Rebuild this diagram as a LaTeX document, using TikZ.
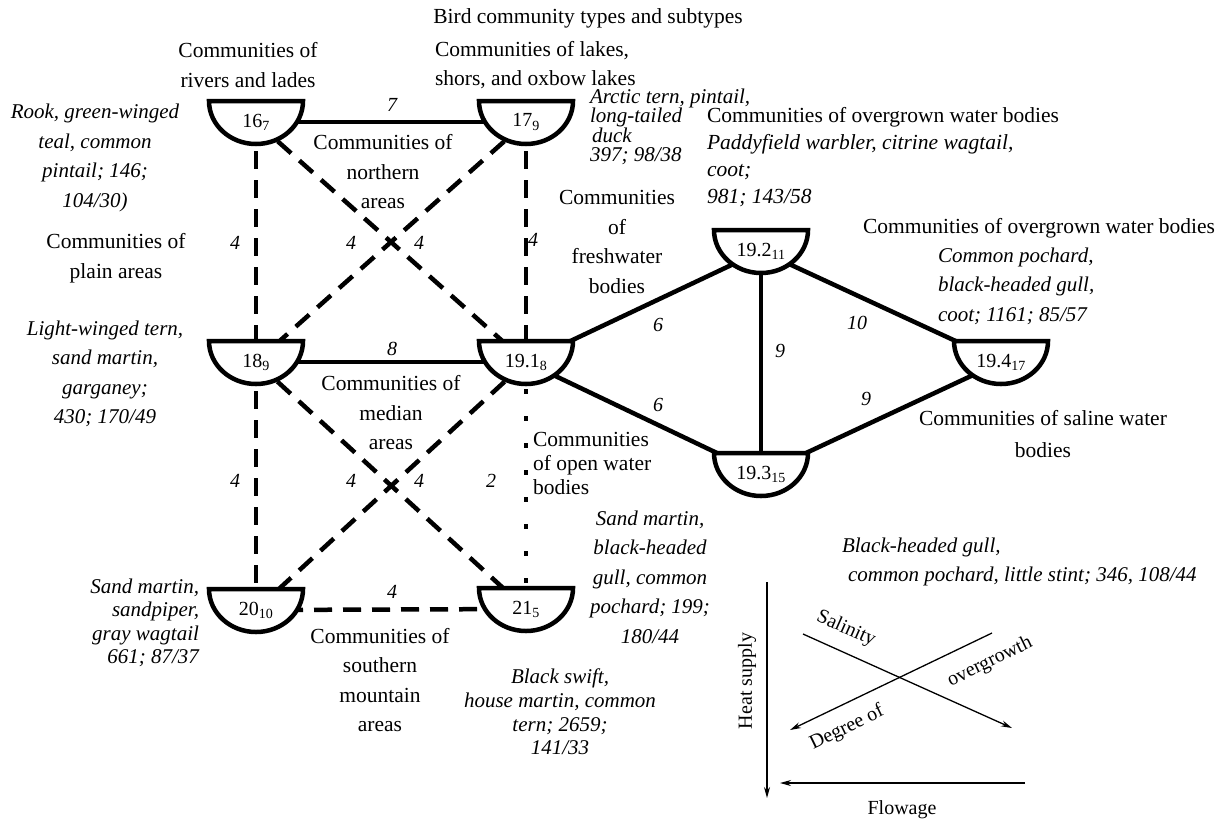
\documentclass[tikz,border=0pt]{standalone}
\usepackage{fontspec}
\setmainfont{Liberation Serif}
\usetikzlibrary{arrows.meta,backgrounds}
\tikzset{
  base/.style={inner sep=0pt, outer sep=0pt},
  up/.style={base, font=\fontsize{21.5}{29.5}\selectfont, align=center},
  it/.style={base, font=\fontsize{21}{29.5}\selectfont\itshape, align=center},
  elab/.style={base, font=\fontsize{20}{24}\selectfont\itshape},
  nlab/.style={base, font=\fontsize{20}{24}\selectfont},
  bowl/.style={line width=4.5pt, fill=white, line join=miter},
  solidln/.style={line width=4.5pt},
  dashln/.style={line width=4.5pt, dash pattern=on 18pt off 11pt},
  dotln/.style={line width=4.5pt, dash pattern=on 5pt off 22pt},
  legarrow/.style={line width=1.3pt, -{Stealth[length=11pt,width=6pt]}},
  leglab/.style={base, font=\fontsize{20}{24}\selectfont},
}
\newcommand\bowlat[4]{%
  \draw[bowl] (#1-47,#2) -- (#1+47,#2) arc[start angle=0,end angle=-180,x radius=47pt,y radius=43pt] -- cycle;
  \node[nlab] (#3) at (#1,#2+21) {#4};
}
\newcommand\tightlines{\lineskiplimit=-20pt\relax}
\begin{document}
\begin{tikzpicture}[x=1pt,y=-1pt]
\useasboundingbox (0,0) rectangle (1222,823);

% community shapes
\bowlat{256}{101}{n16}{16\textsubscript{7}}
\bowlat{526}{101}{n17}{17\textsubscript{9}}
\bowlat{256}{341}{n18}{18\textsubscript{9}}
\bowlat{526}{341}{n191}{19.1\textsubscript{8}}
\bowlat{761}{230}{n192}{19.2\textsubscript{11}}
\bowlat{761}{453}{n193}{19.3\textsubscript{15}}
\bowlat{1001}{341}{n194}{19.4\textsubscript{17}}
\bowlat{256}{589}{n20}{20\textsubscript{10}}
\bowlat{526}{588}{n21}{21\textsubscript{5}}

% connectors
\begin{scope}[on background layer]
\draw[solidln] (n16.center) -- (n17.center);
\draw[dashln] (n16.center) -- (n18.center);
\draw[dashln] (n17.center) -- (n191.center);
\draw[dashln] (n16.center) -- (n191.center);
\draw[dashln] (n17.center) -- (n18.center);
\draw[solidln] (n18.center) -- (n191.center);
\draw[dashln] (n18.center) -- (n20.center);
\draw[dashln] (n18.center) -- (n21.center);
\draw[dashln] (n191.center) -- (n20.center);
\draw[dotln] (n191.center) -- (n21.center);
\draw[dashln] (n20.center) -- (n21.center);
\draw[solidln] (n191.center) -- (n192.center);
\draw[solidln] (n191.center) -- (n193.center);
\draw[solidln] (n192.center) -- (n193.center);
\draw[solidln] (n192.center) -- (n194.center);
\draw[solidln] (n193.center) -- (n194.center);
\end{scope}

% edge labels
\node[elab] (l1) at (392,105) {7};
\node[elab] (l2) at (235,243) {4};
\node[elab] (l3) at (351,243) {4};
\node[elab] (l4) at (419,243) {4};
\node[elab] (l5) at (533,240) {4};
\node[elab] (l6) at (392,349) {8};
\node[elab] (l7) at (235,481) {4};
\node[elab] (l8) at (351,481) {4};
\node[elab] (l9) at (419,481) {4};
\node[elab] (l10) at (491,481) {2};
\node[elab] (l11) at (392,592) {4};
\node[elab] (l12) at (658,325) {6};
\node[elab] (l13) at (658,405) {6};
\node[elab] (l14) at (780,351) {9};
\node[elab] (l15) at (857,323) {10};
\node[elab] (l16) at (866,399) {9};

% texts
\node[up] (title) at (588,18) {Bird community types and subtypes};
\node[up] (trivers) at (248,65) {Communities of\\rivers and lades};
\node[up, align=left, anchor=west] (tlakes) at (435,65) {Communities of lakes,\\shors, and oxbow lakes};
\node[up] (tnorth) at (383,172) {Communities of\\northern\\areas};
\node[up] (tplain) at (116,258) {Communities of\\plain areas};
\node[it] (brook) at (95,158) {Rook, green-winged\\teal, common\\pintail; 146;\\104/30)};
\node[it, align=left, anchor=west, font=\fontsize{21}{19.5}\selectfont\itshape\tightlines] (barctic) at (590,127) {Arctic tern, pintail,\\long-tailed\\\hspace*{2pt}duck\\397; 98/38};
\node[up, align=left, anchor=west, font=\fontsize{21.5}{27}\selectfont] (tovg1) at (707,157.5) {Communities of overgrown water bodies\\\textit{Paddyfield warbler, citrine wagtail,}\\\textit{coot;}\\\textit{981; 143/58}};
\node[up] (tfresh) at (617,242) {Communities\\of\\freshwater\\bodies};
\node[up] (tovg2) at (1039,228) {Communities of overgrown water bodies};
\node[it, align=left, anchor=west] (bpochard) at (938,286) {Common pochard,\\black-headed gull,\\coot; 1161; 85/57};
\node[up, font=\fontsize{21.5}{32}\selectfont] (tsaline) at (1043,434) {Communities of saline water\\bodies};
\node[up] (tmedian) at (391,413) {Communities of\\median\\areas};
\node[it] (blight) at (105,374) {Light-winged tern,\\sand martin,\\garganey;\\430; 170/49};
\node[up, align=left, anchor=west, font=\fontsize{21.5}{24}\selectfont] (topen) at (533,463) {Communities\\of open water\\bodies};
\node[it] (bsand1) at (650,577) {Sand martin,\\black-headed\\gull, common\\pochard; 199;\\180/44};
\node[it, align=left, anchor=west] (bblack) at (842,562) {Black-headed gull,\\\hspace*{6pt}common pochard, little stint; 346, 108/44};
\node[it, align=right, anchor=east, font=\fontsize{21}{23.5}\selectfont\itshape] (bsand2) at (199,623) {Sand martin,\\sandpiper,\\gray wagtail\\661; 87/37};
\node[up] (tsouth) at (380,680) {Communities of\\southern\\mountain\\areas};
\node[it, font=\fontsize{21}{23.7}\selectfont\itshape] (bswift) at (560,712) {Black swift,\\house martin, common\\tern; 2659;\\141/33};

% legend
\coordinate (hsA) at (767,582);
\coordinate (hsB) at (767,798);
\coordinate (flA) at (1025,783);
\coordinate (flB) at (780,783);
\coordinate (saA) at (803,634);
\coordinate (saB) at (1012,728);
\coordinate (ovA) at (992,633);
\coordinate (ovB) at (790,730);
\draw[legarrow] (hsA) -- (hsB);
\draw[legarrow] (flA) -- (flB);
\draw[legarrow] (saA) -- (saB);
\draw[legarrow] (ovA) -- (ovB);
\node[leglab, rotate=90] (lheat) at (747,681) {Heat supply};
\node[leglab] (lflow) at (902,810) {Flowage};
\node[leglab, rotate=-24] (lsal) at (846,629) {Salinity};
\node[leglab, rotate=26] (ldeg) at (847,728) {Degree of};
\node[leglab, rotate=26] (lover) at (990,662) {overgrowth};
\end{tikzpicture}
\end{document}
